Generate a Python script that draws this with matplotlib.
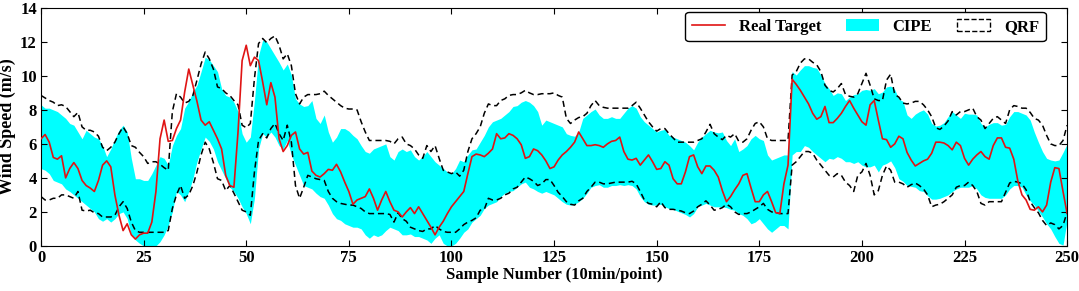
import numpy as np
import matplotlib
matplotlib.use("Agg")
import matplotlib.pyplot as plt
from matplotlib.lines import Line2D
from matplotlib.patches import Patch

plt.rcParams['font.family'] = ['Liberation Serif', 'DejaVu Serif']
plt.rcParams['font.weight'] = 'bold'

# wind speed, one value per 10-min sample (0..250)
real_target = [
    6.3, 6.55, 6.1, 5.2, 5.1, 5.3, 4.0, 4.55, 4.9, 4.55,
    3.85, 3.55, 3.4, 3.2, 3.85, 4.75, 5.0, 4.65, 3.0, 1.8,
    0.9, 1.3, 0.65, 0.4, 0.65, 0.75, 0.75, 1.4, 3.2, 6.3,
    7.4, 6.15, 6.2, 6.9, 7.4, 9.05, 10.4, 9.45, 8.5, 7.4,
    7.1, 7.3, 6.8, 6.3, 5.7, 4.15, 3.55, 3.45, 6.7, 10.9,
    11.8, 10.6, 11.1, 10.9, 9.65, 8.3, 9.6, 8.75, 6.3, 5.55,
    5.9, 6.5, 6.7, 5.7, 5.4, 5.5, 4.4, 4.15, 4.05, 4.25,
    4.5, 4.45, 4.8, 4.35, 3.75, 3.2, 2.45, 2.7, 2.8, 2.9,
    3.35, 2.8, 2.1, 2.7, 3.2, 2.6, 2.1, 2.0, 1.7, 2.0,
    2.25, 1.9, 2.3, 1.9, 1.5, 1.1, 0.65, 1.1, 1.45, 1.9,
    2.3, 2.6, 2.9, 3.2, 4.25, 5.25, 5.4, 5.35, 5.25, 5.45,
    5.7, 6.6, 6.3, 6.35, 6.6, 6.5, 6.3, 5.95, 5.15, 5.25,
    5.7, 5.6, 5.35, 5.0, 4.55, 4.65, 5.05, 5.35, 5.55, 5.8,
    6.1, 6.7, 6.3, 5.9, 5.9, 5.95, 5.9, 5.8, 6.0, 6.15,
    6.2, 6.4, 5.55, 5.1, 5.05, 5.15, 4.75, 5.05, 5.35, 4.95,
    4.5, 4.55, 4.95, 4.75, 3.95, 3.65, 3.65, 4.35, 5.25, 5.35,
    4.65, 4.25, 4.7, 4.7, 4.45, 4.05, 3.25, 2.6, 2.9, 3.3,
    3.65, 4.15, 4.25, 3.4, 2.6, 2.6, 3.0, 3.2, 2.6, 1.95,
    1.9, 3.65, 4.75, 9.8, 9.5, 9.15, 8.75, 8.35, 7.8, 7.45,
    7.6, 8.2, 7.25, 7.25, 7.5, 7.8, 8.2, 8.55, 8.1, 7.7,
    7.3, 7.1, 8.3, 8.55, 7.4, 6.3, 6.25, 5.8, 6.0, 6.45,
    6.3, 5.5, 5.05, 4.7, 4.85, 5.0, 5.1, 5.45, 6.1, 6.1,
    6.05, 5.9, 5.65, 6.1, 5.9, 5.15, 4.75, 5.1, 5.35, 5.55,
    5.25, 5.1, 5.9, 6.35, 6.35, 5.8, 5.75, 5.1, 3.8, 3.0,
    2.7, 2.15, 2.1, 2.3, 2.0, 2.4, 3.75, 4.6, 4.55, 3.2,
    1.9,
]

cipe_upper = [
    8.3, 8.1, 8.1, 8.0, 7.9, 7.7, 7.5, 7.2, 7.1, 6.7,
    6.3, 6.8, 6.6, 6.4, 6.3, 5.9, 5.25, 5.7, 6.3, 6.8,
    7.1, 6.7, 5.15, 3.95, 3.95, 3.85, 3.85, 4.25, 4.75, 5.25,
    5.15, 4.75, 5.9, 6.5, 6.9, 8.1, 8.5, 9.05, 9.45, 10.25,
    11.1, 10.95, 10.6, 10.25, 9.25, 8.85, 8.75, 8.45, 7.9, 6.6,
    6.1, 6.4, 8.55, 11.2, 12.1, 12.0, 11.6, 11.2, 10.8, 10.35,
    10.7, 10.05, 8.65, 8.35, 8.2, 8.25, 8.55, 7.5, 7.2, 7.7,
    6.7, 6.1, 6.4, 6.9, 6.9, 6.75, 6.5, 6.3, 5.9, 5.55,
    5.45, 5.7, 5.8, 5.9, 6.0, 5.25, 5.05, 5.55, 5.7, 5.55,
    5.65, 5.25, 5.05, 5.25, 5.55, 5.25, 4.95, 4.75, 4.55, 4.35,
    4.25, 4.55, 5.05, 4.95, 5.35, 5.65, 5.7, 6.1, 6.5, 7.0,
    7.3, 7.4, 7.5, 7.7, 7.9, 8.2, 8.25, 8.45, 8.55, 8.45,
    8.25, 7.9, 7.1, 7.4, 7.3, 7.2, 7.1, 7.0, 6.6, 6.5,
    6.45, 6.7, 7.5, 7.7, 7.9, 8.05, 7.7, 7.5, 7.5, 7.6,
    7.5, 7.5, 7.8, 8.1, 8.25, 8.1, 7.6, 7.3, 7.1, 6.9,
    6.7, 6.8, 6.85, 6.5, 6.4, 6.3, 6.2, 6.1, 5.9, 5.65,
    6.1, 6.4, 6.6, 6.8, 6.7, 6.65, 6.7, 6.2, 5.9, 6.3,
    5.55, 5.7, 5.9, 6.3, 6.5, 6.3, 6.2, 5.35, 5.05, 5.15,
    5.25, 5.35, 5.35, 10.25, 10.05, 10.35, 10.6, 10.6, 10.5, 10.45,
    10.05, 9.55, 9.25, 8.85, 9.0, 8.95, 8.55, 8.75, 8.9, 8.95,
    9.15, 9.2, 9.15, 9.25, 8.95, 9.05, 9.35, 9.4, 9.2, 8.65,
    8.5, 7.7, 7.5, 7.75, 7.9, 8.0, 7.75, 7.2, 7.05, 7.1,
    7.25, 7.6, 7.9, 7.7, 7.5, 7.8, 7.75, 7.75, 7.7, 7.2,
    7.0, 7.15, 7.25, 7.25, 7.1, 7.15, 7.6, 7.9, 7.9, 7.8,
    7.7, 7.4, 6.7, 6.1, 5.55, 5.15, 5.05, 5.0, 5.05, 5.5,
    6.0,
]

cipe_lower = [
    4.55, 4.45, 4.25, 3.85, 3.75, 3.65, 3.35, 3.2, 3.0, 2.8,
    2.6, 2.4, 2.2, 2.0, 1.6, 1.45, 1.6, 1.4, 1.6, 1.9,
    2.0, 1.6, 0.65, 0.35, 0.15, 0.0, 0.0, 0.0, 0.0, 0.25,
    0.65, 1.2, 2.0, 3.2, 3.0, 2.6, 3.2, 3.95, 4.95, 5.7,
    6.4, 6.15, 5.7, 4.95, 4.45, 3.95, 3.45, 3.2, 2.8, 2.3,
    1.9, 1.3, 2.8, 5.7, 6.6, 6.4, 6.7, 6.4, 5.9, 5.7,
    6.2, 5.35, 4.75, 4.15, 3.55, 3.45, 3.35, 3.1, 2.9, 2.8,
    2.4, 1.9, 1.6, 1.5, 1.3, 1.2, 1.1, 1.1, 1.0, 0.65,
    0.45, 0.65, 0.55, 0.65, 0.9, 1.1, 1.0, 0.9, 0.65, 0.65,
    0.7, 0.55, 0.55, 0.45, 0.35, 0.15, 0.45, 0.65, 0.15, 0.0,
    0.0, 0.15, 0.45, 0.8, 1.0, 1.4, 1.6, 1.8, 2.2, 2.4,
    2.5, 2.6, 2.9, 3.1, 3.2, 3.25, 3.45, 3.65, 3.75, 3.45,
    3.35, 3.2, 3.1, 3.2, 3.1, 3.0, 2.8, 2.6, 2.45, 2.4,
    2.45, 2.6, 2.8, 3.1, 3.45, 3.55, 3.6, 3.45, 3.45, 3.55,
    3.55, 3.6, 3.55, 3.6, 3.55, 3.35, 2.9, 2.6, 2.45, 2.4,
    2.4, 2.45, 2.3, 2.2, 2.15, 2.05, 1.95, 1.85, 1.7, 1.9,
    2.3, 2.4, 2.5, 2.4, 2.3, 2.3, 2.3, 2.25, 2.15, 2.1,
    1.9, 1.8, 1.6, 1.3, 1.4, 1.6, 1.3, 1.0, 0.8, 1.0,
    1.2, 1.2, 1.0, 5.35, 5.55, 5.55, 5.9, 5.8, 5.55, 5.35,
    5.15, 4.95, 5.15, 5.1, 5.25, 5.15, 4.95, 4.95, 4.85, 4.95,
    4.75, 4.65, 4.65, 4.75, 4.35, 4.75, 4.85, 5.0, 4.6, 3.95,
    3.8, 3.55, 3.5, 3.45, 3.25, 3.2, 2.95, 2.75, 2.75, 2.8,
    2.9, 3.0, 3.2, 3.35, 3.45, 3.45, 3.45, 3.55, 3.35, 3.0,
    2.85, 2.8, 2.8, 2.8, 2.8, 3.0, 3.35, 3.55, 3.55, 3.45,
    3.0, 2.65, 2.4, 2.05, 1.7, 1.3, 1.0, 0.55, 0.15, 0.05,
    1.5,
]

qrf_upper = [
    8.85, 8.7, 8.55, 8.45, 8.25, 8.3, 8.2, 7.9, 7.6, 7.85,
    7.0, 6.8, 6.8, 6.7, 6.45, 5.8, 5.6, 5.8, 6.1, 6.6,
    7.0, 6.6, 5.9, 5.8, 5.5, 5.25, 4.85, 4.95, 4.95, 4.8,
    4.6, 4.45, 7.9, 8.95, 8.75, 8.4, 8.5, 8.85, 9.75, 10.7,
    11.4, 11.0, 10.4, 9.35, 9.25, 9.0, 8.85, 8.55, 8.3, 7.1,
    6.95, 7.2, 9.85, 11.9, 12.2, 11.95, 12.2, 12.35, 11.8, 11.0,
    11.3, 10.6, 8.95, 8.35, 8.75, 8.9, 8.9, 8.9, 8.95, 9.1,
    8.85, 8.65, 8.45, 8.25, 8.1, 8.05, 8.05, 8.0, 7.3, 6.7,
    6.2, 6.2, 6.2, 6.2, 6.2, 6.15, 6.0, 6.3, 6.4, 6.0,
    5.9, 5.7, 5.35, 5.15, 5.9, 5.55, 5.9, 5.15, 4.45, 4.35,
    4.25, 4.35, 4.1, 4.45, 5.55, 6.3, 6.6, 7.0, 7.8, 8.35,
    8.25, 8.25, 8.55, 8.65, 8.85, 8.9, 8.9, 9.0, 9.15, 9.0,
    8.9, 8.9, 8.95, 8.95, 8.95, 9.0, 8.85, 8.75, 7.5, 7.2,
    7.4, 7.55, 7.6, 7.8, 8.25, 8.55, 8.25, 8.15, 8.1, 8.1,
    8.1, 8.1, 8.1, 8.1, 8.25, 8.45, 8.1, 7.7, 7.3, 7.0,
    6.75, 6.9, 6.9, 6.6, 6.35, 6.1, 6.1, 6.1, 6.1, 6.1,
    6.2, 6.3, 6.7, 7.15, 6.6, 6.4, 6.25, 6.5, 6.4, 6.6,
    6.15, 6.1, 6.3, 6.8, 7.2, 7.3, 7.0, 6.3, 6.2, 6.2,
    6.2, 6.2, 6.2, 10.05, 10.25, 10.75, 11.0, 11.0, 10.8, 10.65,
    10.25, 9.45, 9.15, 9.05, 9.25, 9.55, 8.9, 8.8, 8.75, 8.95,
    9.55, 10.15, 9.45, 8.65, 8.55, 8.55, 9.75, 10.1, 8.9, 8.75,
    8.4, 8.35, 8.4, 8.5, 8.5, 8.3, 8.0, 7.6, 6.95, 6.85,
    7.05, 7.35, 7.9, 7.7, 7.9, 7.9, 8.0, 8.1, 7.6, 7.4,
    6.9, 7.2, 7.5, 7.6, 7.4, 7.2, 8.0, 8.25, 8.2, 8.1,
    8.1, 7.85, 7.5, 7.4, 7.1, 6.5, 6.0, 5.9, 5.9, 6.2,
    7.1,
]

qrf_lower = [
    2.9, 2.7, 2.7, 2.8, 2.8, 3.0, 3.0, 2.9, 2.8, 3.2,
    2.1, 2.05, 2.1, 1.95, 1.9, 1.7, 1.7, 1.7, 1.8, 2.3,
    2.6, 2.2, 1.4, 0.9, 0.8, 0.8, 0.8, 0.8, 0.8, 0.8,
    0.8, 0.9, 2.2, 3.0, 3.55, 2.8, 3.0, 3.55, 4.35, 5.35,
    6.1, 5.7, 4.9, 3.95, 3.85, 3.25, 3.55, 3.1, 2.6, 2.1,
    2.0, 1.8, 4.35, 6.2, 6.6, 6.35, 6.9, 7.2, 6.6, 6.2,
    7.1, 6.1, 3.55, 2.8, 3.45, 4.15, 4.05, 3.95, 3.9, 3.85,
    3.2, 2.8, 2.6, 2.5, 2.45, 2.4, 2.4, 2.3, 2.2, 2.0,
    1.9, 1.9, 1.9, 1.9, 1.9, 1.85, 1.4, 1.95, 1.6, 1.45,
    1.1, 1.0, 0.9, 0.85, 1.0, 1.0, 1.2, 1.0, 0.85, 0.8,
    0.8, 0.8, 1.0, 1.25, 1.4, 1.5, 1.65, 2.1, 2.15, 2.8,
    2.7, 2.7, 2.8, 3.0, 3.1, 3.35, 3.45, 3.75, 4.05, 3.95,
    3.8, 3.55, 3.65, 3.9, 3.9, 3.55, 3.15, 2.9, 2.6, 2.45,
    2.4, 2.65, 2.8, 3.2, 3.45, 3.75, 3.75, 3.65, 3.65, 3.7,
    3.75, 3.75, 3.75, 3.75, 3.8, 3.65, 3.2, 2.7, 2.5, 2.45,
    2.3, 2.6, 2.25, 2.15, 2.15, 2.1, 2.05, 1.95, 1.9, 2.05,
    2.3, 2.45, 2.65, 2.4, 2.1, 2.15, 2.25, 2.45, 2.3, 2.0,
    1.85, 1.9, 1.9, 2.0, 2.15, 2.3, 2.5, 2.15, 2.0, 1.95,
    1.9, 1.9, 1.9, 4.75, 4.95, 5.25, 5.55, 5.55, 5.45, 5.05,
    4.75, 4.45, 4.15, 4.05, 4.25, 4.15, 3.75, 3.55, 3.2, 4.15,
    4.35, 4.85, 4.15, 3.0, 3.25, 4.15, 4.7, 4.45, 3.75, 3.75,
    3.65, 3.45, 3.6, 3.7, 3.55, 3.35, 3.0, 2.3, 2.4, 2.45,
    2.6, 2.8, 3.0, 3.45, 3.55, 3.55, 3.75, 3.55, 3.2, 2.5,
    2.4, 2.6, 2.6, 2.6, 2.6, 3.15, 3.7, 3.8, 3.75, 3.65,
    3.3, 2.6, 2.25, 1.95, 1.5, 1.2, 1.35, 1.25, 1.0, 1.2,
    2.0,
]

x = np.arange(len(real_target))

red = '#e01414'
cyan = '#00ffff'

fig = plt.figure(figsize=(10.79, 2.91), dpi=100)
ax = fig.add_axes([0.038, 0.155, 0.951, 0.818])

ax.fill_between(x, cipe_lower, cipe_upper, color=cyan, linewidth=0, zorder=1)
ax.plot(x, qrf_upper, 'k--', lw=1.1, dashes=(4, 2.5), zorder=2)
ax.plot(x, qrf_lower, 'k--', lw=1.1, dashes=(4, 2.5), zorder=2)
ax.plot(x, real_target, color=red, lw=1.2, zorder=3)

ax.set_xlim(0, 250)
ax.set_ylim(0, 14)
ax.set_xticks(np.arange(0, 251, 25))
ax.set_yticks(np.arange(0, 15, 2))
ax.tick_params(direction='in', top=True, right=True, labelsize=12, length=4, pad=3)
for lab in ax.get_xticklabels() + ax.get_yticklabels():
    lab.set_fontweight('bold')

ax.set_xlabel('Sample Number (10min/point)', fontsize=12, fontweight='bold', labelpad=1)
ax.set_ylabel('Wind Speed (m/s)', fontsize=13, fontweight='bold', labelpad=3)

handles = [
    Line2D([0], [0], color=red, lw=1.2),
    Patch(facecolor=cyan, edgecolor='none'),
    Patch(facecolor='none', edgecolor='k', linestyle='--', lw=1.0),
]
leg = ax.legend(handles, ['Real Target', 'CIPE', 'QRF'], loc='upper right',
                ncol=3, fontsize=12, frameon=True, fancybox=True,
                borderaxespad=0, borderpad=0.4, columnspacing=1.5,
                handlelength=2.0, handleheight=0.8, handletextpad=0.8,
                bbox_to_anchor=(0.979, 0.983))
leg.get_frame().set_edgecolor('k')
leg.get_frame().set_linewidth(1.0)
leg.get_frame().set_alpha(1)
for t in leg.get_texts():
    t.set_fontweight('bold')

fig.savefig('out.png', dpi=100)
